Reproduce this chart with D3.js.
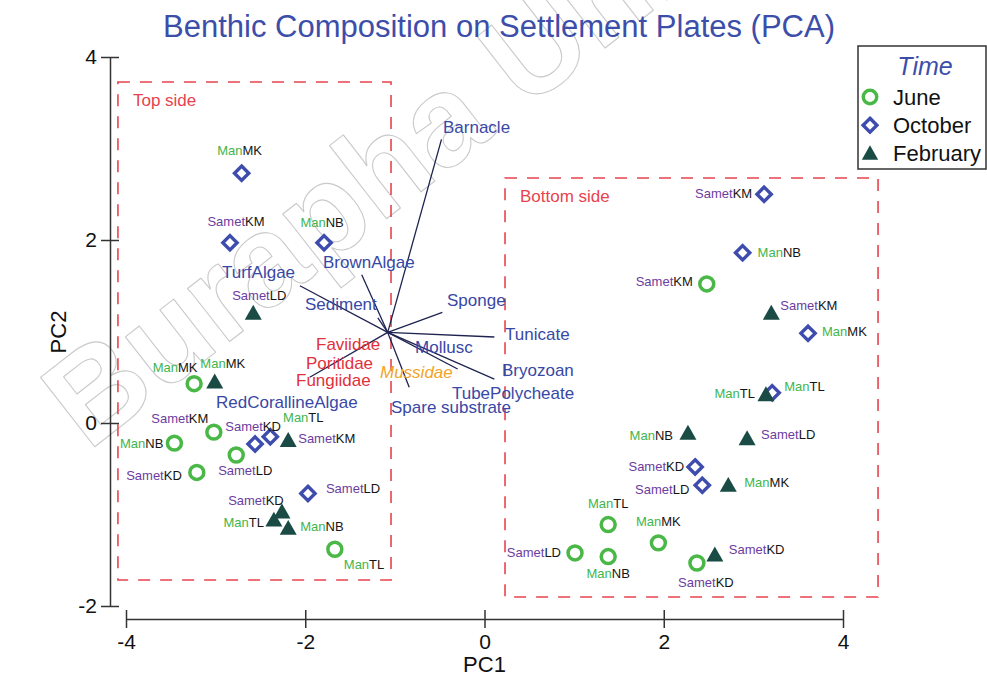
<!DOCTYPE html>
<html>
<head>
<meta charset="utf-8">
<script src="https://cdn.jsdelivr.net/npm/d3@7"></script>
<style>
  html, body { margin: 0; padding: 0; background: #fff; }
  svg { display: block; font-family: "Liberation Sans", Arial, sans-serif; }
</style>
</head>
<body>
<svg id="chart" width="987" height="680"></svg>
<script>
// ---- data -------------------------------------------------------------
const timeLevels = ["June", "October", "February"];
const xTicks = [-4, -2, 0, 2, 4];
const yTicks = [-2, 0, 2, 4];

// site, plate side, PC1, PC2
const juneScores = [
  ["ManMK", "Top", -3.24, 0.43],
  ["SametKM", "Top", -3.02, -0.10],
  ["ManNB", "Top", -3.46, -0.22],
  ["SametLD", "Top", -2.77, -0.35],
  ["SametKD", "Top", -3.21, -0.54],
  ["ManTL", "Top", -1.67, -1.38],
  ["SametKM", "Bottom", 2.48, 1.52],
  ["ManTL", "Bottom", 1.38, -1.11],
  ["ManMK", "Bottom", 1.94, -1.31],
  ["SametLD", "Bottom", 1.01, -1.42],
  ["ManNB", "Bottom", 1.38, -1.46],
  ["SametKD", "Bottom", 2.37, -1.53]
];
const octoberScores = [
  ["ManMK", "Top", -2.71, 2.73],
  ["SametKM", "Top", -2.84, 1.97],
  ["ManNB", "Top", -1.79, 1.97],
  ["SametKD", "Top", -2.56, -0.23],
  ["ManTL", "Top", -2.39, -0.15],
  ["SametLD", "Top", -1.97, -0.77],
  ["SametKM", "Bottom", 3.12, 2.50],
  ["ManNB", "Bottom", 2.88, 1.86],
  ["ManMK", "Bottom", 3.61, 0.98],
  ["ManTL", "Bottom", 3.21, 0.33],
  ["SametKD", "Bottom", 2.35, -0.48],
  ["SametLD", "Bottom", 2.43, -0.68]
];
const februaryScores = [
  ["SametLD", "Top", -2.58, 1.20],
  ["ManMK", "Top", -3.01, 0.45],
  ["SametKM", "Top", -2.19, -0.19],
  ["SametKD", "Top", -2.26, -0.97],
  ["ManTL", "Top", -2.35, -1.06],
  ["ManNB", "Top", -2.19, -1.15],
  ["SametKM", "Bottom", 3.20, 1.20],
  ["ManTL", "Bottom", 3.14, 0.31],
  ["ManNB", "Bottom", 2.27, -0.11],
  ["SametLD", "Bottom", 2.93, -0.17],
  ["ManMK", "Bottom", 2.72, -0.68],
  ["SametKD", "Bottom", 2.57, -1.44]
];

// biplot loadings (PC1, PC2) drawn from a common origin
const vectorOrigin = [-1.08, 0.99];
const loadings = [
  ["Barnacle", 0.60, 2.11],
  ["BrownAlgae", -0.29, 0.63],
  ["TurfAlgae", -0.98, 0.51],
  ["Sediment", -0.11, 0.16],
  ["Sponge", 0.61, 0.22],
  ["Tunicate", 1.19, -0.05],
  ["Mollusc", 0.78, -0.40],
  ["TubePolycheate", 1.19, -0.51],
  ["Spare substrate", 0.24, -0.60],
  ["Fungiidae", -0.87, -0.49]
];
const hardCoralTaxa = ["Faviidae", "Poritidae", "Fungiidae"];
const minorTaxa = ["Mussidae"];

// ---- layout ---------------------------------------------------------------
const svg = d3.select("#chart");
const x = d3.scaleLinear().domain([-4, 4]).range([126, 843]);
const y = d3.scaleLinear().domain([-2, 4]).range([606, 57]);

const FONT = '"Liberation Sans", Arial, sans-serif';
const C = {
  title: "#3c4ea9",
  june: "#49b847",
  october: "#3d4cad",
  february: "#1a4b44",
  man: "#3fb54c",
  samet: "#6c3c9f",
  code: "#151515",
  taxon: "#3848a6",
  coral: "#e2313b",
  minor: "#f2a427",
  box: "#e8434d",
  vector: "#1e2350",
  axis: "#333"
};

// label placement for each score: [dx, dy, anchor]
const scoreLabelOffsets = {
  June: [
    [-19, -16, "middle"], [-34, -14, "middle"], [-11, 0, "end"], [9, 15, "middle"],
    [-15, 3, "end"], [9, 15, "start"], [-14, -2, "end"], [0, -21, "middle"],
    [0, -21, "middle"], [-14, 0, "end"], [0, 17, "middle"], [9, 19, "middle"]
  ],
  October: [
    [-2, -23, "middle"], [6, -21, "middle"], [-2, -20, "middle"], [-2, -18, "middle"],
    [33, -19, "middle"], [18, -5, "start"], [-12, -1, "end"], [15, 0, "start"],
    [14, -2, "start"], [12, -6, "start"], [-11, 0, "end"], [-13, 4, "end"]
  ],
  February: [
    [6, -18, "middle"], [8, -18, "middle"], [10, -2, "start"], [-26, -11, "middle"],
    [-10, 2, "end"], [12, -2, "start"], [9, -8, "start"], [-11, -1, "end"],
    [-15, 2, "end"], [14, -4, "start"], [16, -3, "start"], [14, -5, "start"]
  ]
};

// taxon label anchors (left edge, baseline) in PC units
const taxonLabelAt = [
  ["Barnacle", -0.463, 3.169],
  ["BrownAlgae", -1.802, 1.694],
  ["TurfAlgae", -2.929, 1.585],
  ["Sediment", -2.003, 1.235],
  ["Sponge", -0.418, 1.279],
  ["Tunicate", 0.229, 0.907],
  ["Mollusc", -0.775, 0.765],
  ["Bryozoan", 0.195, 0.514],
  ["TubePolycheate", -0.363, 0.262],
  ["Spare substrate", -1.043, 0.109],
  ["Faviidae", -1.880, 0.798],
  ["Poritidae", -1.992, 0.590],
  ["Fungiidae", -2.103, 0.404],
  ["Mussidae", -1.166, 0.492],
  ["RedCorallineAlgae", -2.996, 0.164]
];

// side groupings (PC extents of each dashed frame)
const sideFrames = [
  { name: "Top side", x0: -4.09, x1: -1.043, y0: -1.716, y1: 3.727 },
  { name: "Bottom side", x0: 0.229, x1: 4.391, y0: -1.902, y1: 2.678 }
];

// ---- watermark --------------------------------------------------------------
svg.append("text")
  .attr("transform", "translate(88,452) rotate(-38)")
  .attr("font-family", FONT)
  .attr("font-weight", "bold")
  .attr("font-size", 128)
  .attr("fill", "none")
  .attr("stroke", "#cacaca")
  .attr("stroke-width", 1.1)
  .attr("stroke-linejoin", "round")
  .text("Burapha University");

// ---- title ------------------------------------------------------------------
svg.append("text")
  .attr("x", 499).attr("y", 37)
  .attr("text-anchor", "middle")
  .attr("font-size", 31)
  .attr("fill", C.title)
  .text("Benthic Composition on Settlement Plates (PCA)");

// ---- dashed side frames -----------------------------------------------------
const frames = svg.append("g");
sideFrames.forEach(f => {
  frames.append("rect")
    .attr("x", x(f.x0)).attr("y", y(f.y1))
    .attr("width", x(f.x1) - x(f.x0))
    .attr("height", y(f.y0) - y(f.y1))
    .attr("fill", "none")
    .attr("stroke", C.box)
    .attr("stroke-width", 1.6)
    .attr("stroke-dasharray", "12,10");
  frames.append("text")
    .attr("x", x(f.x0) + 15).attr("y", y(f.y1) + 24)
    .attr("font-size", 17)
    .attr("fill", C.box)
    .text(f.name);
});

// ---- axes -----------------------------------------------------------------
const xAxisY = 619;
const gx = svg.append("g")
  .attr("transform", `translate(0,${xAxisY})`)
  .call(d3.axisBottom(x).tickValues(xTicks).tickSize(9).tickSizeOuter(0));
gx.selectAll(".tick line").attr("y1", -9);
gx.selectAll(".tick text").attr("y", 15).attr("dy", "0.71em");

const yAxisX = 110;
const gy = svg.append("g")
  .attr("transform", `translate(${yAxisX},0)`)
  .call(d3.axisLeft(y).tickValues(yTicks).tickSize(9).tickSizeOuter(0));
gy.selectAll(".tick line").attr("x1", 9);
gy.selectAll(".tick text").attr("x", -13);

[gx, gy].forEach(g => {
  g.select(".domain").attr("stroke", C.axis).attr("stroke-width", 1.5);
  g.selectAll(".tick line").attr("stroke", C.axis).attr("stroke-width", 1.5);
  g.selectAll(".tick text")
    .attr("font-family", FONT)
    .attr("font-size", 21)
    .attr("fill", "#111")
    .text(d => String(d));   // plain hyphen-minus labels
});

svg.append("text")
  .attr("x", x(0)).attr("y", 672)
  .attr("text-anchor", "middle")
  .attr("font-size", 22)
  .attr("fill", "#111")
  .text("PC1");
svg.append("text")
  .attr("transform", "translate(66,332) rotate(-90)")
  .attr("text-anchor", "middle")
  .attr("font-size", 22)
  .attr("fill", "#111")
  .text("PC2");

// ---- loading vectors --------------------------------------------------------
const vg = svg.append("g");
vg.selectAll("line")
  .data(loadings)
  .join("line")
  .attr("x1", x(vectorOrigin[0]))
  .attr("y1", y(vectorOrigin[1]))
  .attr("x2", d => x(vectorOrigin[0] + d[1]))
  .attr("y2", d => y(vectorOrigin[1] + d[2]))
  .attr("stroke", C.vector)
  .attr("stroke-width", 1.3);

vg.selectAll("text")
  .data(taxonLabelAt)
  .join("text")
  .attr("x", d => x(d[1]))
  .attr("y", d => y(d[2]))
  .attr("font-size", 17)
  .attr("font-style", d => minorTaxa.includes(d[0]) ? "italic" : "normal")
  .attr("fill", d => hardCoralTaxa.includes(d[0]) ? C.coral : (minorTaxa.includes(d[0]) ? C.minor : C.taxon))
  .text(d => d[0]);

// ---- markers ----------------------------------------------------------------
function drawMarker(g, time, s) {
  if (time === "June") {
    g.append("circle").attr("r", s * 0.82)
      .attr("fill", "none").attr("stroke", C.june).attr("stroke-width", 3.5);
  } else if (time === "October") {
    const h = s * 0.84;
    g.append("path").attr("d", `M0,${-h}L${h},0L0,${h}L${-h},0Z`)
      .attr("fill", "none").attr("stroke", C.october).attr("stroke-width", 3.4);
  } else {
    g.append("path").attr("d", `M0,${-s * 0.98}L${s},${s * 0.78}L${-s},${s * 0.78}Z`)
      .attr("fill", C.february);
  }
}

const scoreSets = { June: juneScores, October: octoberScores, February: februaryScores };
const pts = svg.append("g");
const labs = svg.append("g");
timeLevels.forEach(time => {
  scoreSets[time].forEach((r, i) => {
    const [site, , pc1, pc2] = r;
    const px = x(pc1), py = y(pc2);
    const mg = pts.append("g").attr("transform", `translate(${px},${py})`);
    drawMarker(mg, time, 8.5);

    const [dx, dy, anchor] = scoreLabelOffsets[time][i];
    const prefix = site.startsWith("Man") ? "Man" : "Samet";
    const code = site.slice(prefix.length);
    const t = labs.append("text")
      .attr("x", px + dx).attr("y", py + dy)
      .attr("dy", "0.35em")
      .attr("text-anchor", anchor)
      .attr("font-size", 13);
    t.append("tspan").attr("fill", prefix === "Man" ? C.man : C.samet).text(prefix);
    t.append("tspan").attr("fill", C.code).text(code);
  });
});

// ---- legend -----------------------------------------------------------------
const lg = svg.append("g");
lg.append("rect")
  .attr("x", 858).attr("y", 46)
  .attr("width", 128).attr("height", 123)
  .attr("fill", "#fff")
  .attr("stroke", "#333").attr("stroke-width", 1.5);
lg.append("text")
  .attr("x", 925).attr("y", 75)
  .attr("text-anchor", "middle")
  .attr("font-size", 25)
  .attr("font-style", "italic")
  .attr("fill", C.title)
  .text("Time");
timeLevels.forEach((time, i) => {
  const cy = 97 + i * 28.2;
  const mg = lg.append("g").attr("transform", `translate(870,${cy})`);
  drawMarker(mg, time, 8.2);
  lg.append("text")
    .attr("x", 893).attr("y", cy)
    .attr("dy", "0.36em")
    .attr("font-size", 22)
    .attr("fill", "#111")
    .text(time);
});
</script>
</body>
</html>
